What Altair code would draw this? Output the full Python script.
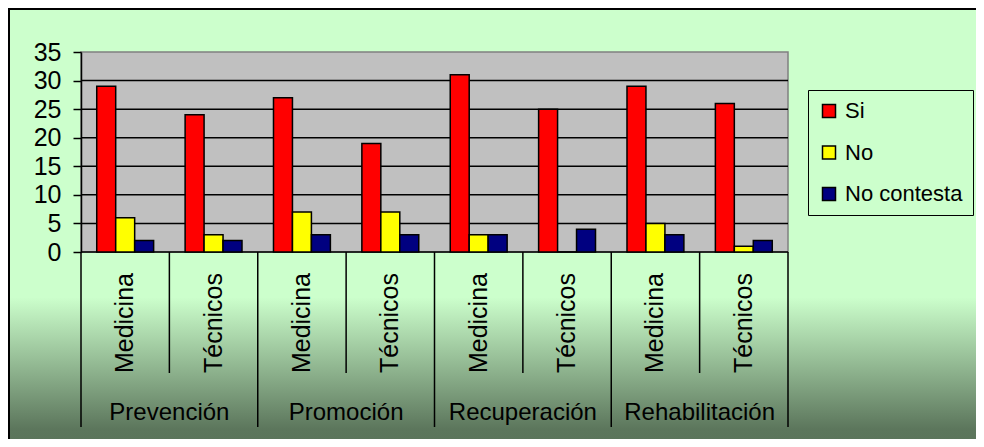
import altair as alt
import pandas as pd

# ---- data ----
groups = ["Prevención", "Promoción", "Recuperación", "Rehabilitación"]
subs = ["Medicina", "Técnicos"]
series = ["Si", "No", "No contesta"]
colors = ["#FF0000", "#FFFF00", "#000080"]
si_vals = [29, 24, 27, 19, 31, 25, 29, 26]
no_vals = [6, 3, 7, 7, 3, 0, 5, 1]
nc_vals = [2, 2, 3, 3, 3, 4, 3, 2]
y_ticks = [0, 5, 10, 15, 20, 25, 30, 35]
grid_vals = [0, 5, 10, 15, 20, 25, 30]

FONT = "Liberation Sans"
W, H = 707, 200
PAD_L, PAD_T = 73, 44
TOTAL_W, TOTAL_H = 968, 431

keys = [f"{g}|{s}" for g in groups for s in subs]
rows = []
for i, k in enumerate(keys):
    g, s = k.split("|")
    for ser, vals in zip(series, [si_vals, no_vals, nc_vals]):
        rows.append({"key": k, "group": g, "sub": s, "series": ser, "value": vals[i]})
df = pd.DataFrame(rows)
cat_df = pd.DataFrame([{"key": k, "group": k.split("|")[0], "sub": k.split("|")[1]} for k in keys])
grid_df = pd.DataFrame({"v": grid_vals})
one = pd.DataFrame({"a": [0]})

xscale = alt.Scale(type="band", domain=keys, paddingInner=0, paddingOuter=0)
yscale = alt.Scale(domain=[0, 35], nice=False, zero=True)
yaxis = alt.Axis(values=y_ticks, title=None, grid=False, labelFont=FONT, labelFontSize=25,
                 labelColor="black", tickColor="black", tickSize=8, tickWidth=1.5,
                 domainColor="black", domainWidth=1.5, labelPadding=12, zindex=1)

gradient = alt.LinearGradient(
    gradient="linear",
    stops=[alt.GradientStop(color="#CCFFCC", offset=0),
           alt.GradientStop(color="#CCFFCC", offset=0.655),
           alt.GradientStop(color="#5C765C", offset=0.955),
           alt.GradientStop(color="#5A735A", offset=1)],
    x1=0, x2=0, y1=0, y2=1)

bg = alt.Chart(one).mark_rect(fill=gradient, stroke="black", strokeWidth=2).encode(
    x=alt.value(-PAD_L + 1), x2=alt.value(TOTAL_W + 20),
    y=alt.value(-PAD_T + 1), y2=alt.value(397))

plot_bg = alt.Chart(one).mark_rect(fill="#C0C0C0", stroke="#808080", strokeWidth=1.5).encode(
    x=alt.value(0), x2=alt.value(W), y=alt.value(0), y2=alt.value(H))

grid = alt.Chart(grid_df).mark_rule(color="black", strokeWidth=1.5).encode(
    y=alt.Y("v:Q", scale=yscale, axis=yaxis), x=alt.value(0), x2=alt.value(W))

bars = alt.Chart(df).mark_bar(stroke="black", strokeWidth=1.5).encode(
    x=alt.X("key:N", scale=xscale, axis=None),
    xOffset=alt.XOffset("series:N", sort=series,
                        scale=alt.Scale(domain=series, paddingInner=0, paddingOuter=0.83)),
    y=alt.Y("value:Q", scale=yscale, axis=yaxis),
    fill=alt.Fill("series:N", sort=series,
                  scale=alt.Scale(domain=series, range=colors),
                  legend=alt.Legend(orient="none", legendX=727, legendY=38, title=None,
                                    symbolType="square", symbolSize=169,
                                    symbolStrokeColor="black", symbolStrokeWidth=1.5,
                                    labelFont=FONT, labelFontSize=22, labelColor="black",
                                    labelOffset=5, rowPadding=19.5, padding=10,
                                    strokeColor="black", fillColor="transparent")),
)

inner_sep = alt.Chart(cat_df[cat_df["sub"] == "Técnicos"]).mark_rule(color="black", strokeWidth=1.5).encode(
    x=alt.X("key:N", scale=xscale, axis=None, bandPosition=0),
    y=alt.value(H), y2=alt.value(321))

outer_sep = alt.Chart(cat_df[cat_df["sub"] == "Medicina"]).mark_rule(color="black", strokeWidth=1.5).encode(
    x=alt.X("key:N", scale=xscale, axis=None, bandPosition=0),
    y=alt.value(H), y2=alt.value(375))

end_sep = alt.Chart(one).mark_rule(color="black", strokeWidth=1.5).encode(
    x=alt.value(W), y=alt.value(H), y2=alt.value(375))

inner_lbl = alt.Chart(cat_df).mark_text(font=FONT, fontSize=25, angle=270, align="right",
                                        baseline="middle", color="black").encode(
    x=alt.X("key:N", scale=xscale, axis=None), y=alt.value(221), text="sub:N")

outer_lbl = alt.Chart(cat_df[cat_df["sub"] == "Técnicos"]).mark_text(
    font=FONT, fontSize=24, align="center", baseline="middle", color="black").encode(
    x=alt.X("key:N", scale=xscale, axis=None, bandPosition=0), y=alt.value(361), text="group:N")

chart = alt.layer(bg, plot_bg, grid, bars, inner_sep, outer_sep, end_sep, inner_lbl, outer_lbl).properties(
    width=W, height=H,
    autosize=alt.AutoSizeParams(type="none"),
    padding={"left": PAD_L, "top": PAD_T, "right": TOTAL_W - PAD_L - W, "bottom": TOTAL_H - PAD_T - H},
    background="white",
).configure_view(stroke=None)

chart.save("out.html", embed_options={"renderer": "svg", "actions": False})
